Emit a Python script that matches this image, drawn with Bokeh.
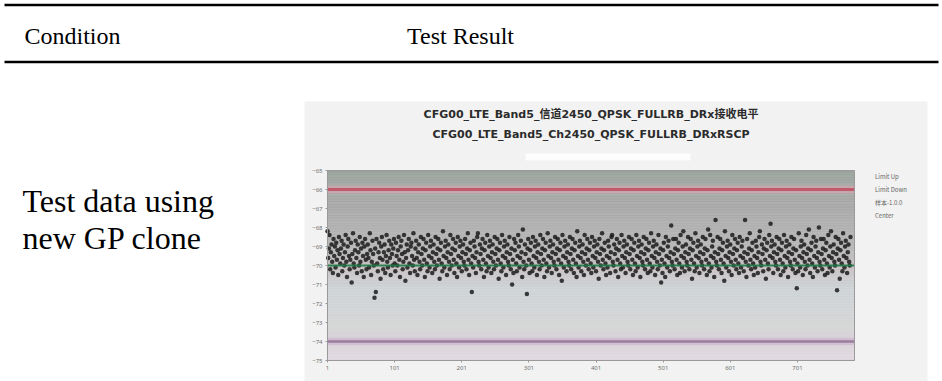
import numpy as np
from bokeh.plotting import figure
from bokeh.models import Range1d, FixedTicker, Legend, LegendItem, LinearAxis
from bokeh.core.properties import value
from bokeh.embed import file_html
from bokeh.resources import INLINE

# ---------------- data ----------------
header_labels = ["Condition", "Test Result"]
condition_lines = ["Test data using", "new GP clone"]
title_lines = ["CFG00_LTE_Band5_信道2450_QPSK_FULLRB_DRx接收电平",
               "CFG00_LTE_Band5_Ch2450_QPSK_FULLRB_DRxRSCP"]
legend_labels = ["Limit Up", "Limit Down", "样本-1.0.0", "Center"]
y_ticks = [-65, -66, -67, -68, -69, -70, -71, -72, -73, -74, -75]
x_ticks = [1, 101, 201, 301, 401, 501, 601, 701]
LIMIT_UP = -66
LIMIT_DOWN = -74
CENTER = -70
X_MIN, X_MAX = 1, 786
Y_MIN, Y_MAX = -75, -65

rscp = [
    -68.2,-69.6,-69.1,-68.4,-70.2,-69.3,-68.9,-69.8,-70.4,-68.6,-69.5,-69.0,-70.1,-68.8,-69.7,-69.2,-70.5,-68.5,-69.4,-69.9,
    -69.1,-68.7,-70.3,-69.6,-68.9,-70.0,-69.3,-68.4,-69.8,-70.6,-69.0,-68.6,-69.5,-70.2,-69.7,-68.8,-70.9,-69.4,-68.3,-69.9,
    -70.1,-69.2,-68.7,-69.6,-70.4,-68.9,-69.3,-70.0,-68.5,-69.8,-69.1,-70.3,-68.8,-69.5,-70.6,-69.0,-68.6,-69.7,-70.2,-69.4,
    -68.9,-69.6,-70.1,-68.3,-69.2,-70.5,-69.8,-68.7,-69.4,-70.0,-71.7,-69.1,-71.4,-68.6,-69.9,-70.3,-69.3,-68.8,-69.6,-70.7,
    -69.0,-68.5,-69.7,-70.2,-69.3,-68.9,-70.4,-69.5,-68.4,-69.8,-70.1,-69.2,-68.7,-69.6,-70.5,-68.9,-69.4,-70.0,-69.1,-68.6,
    -69.9,-70.3,-68.8,-69.5,-70.0,-69.2,-68.5,-69.7,-70.6,-69.0,-68.7,-69.4,-70.2,-69.8,-68.4,-69.3,-70.8,-69.6,-68.9,-70.1,
    -69.2,-68.6,-69.9,-70.4,-69.0,-68.8,-69.5,-70.0,-68.3,-69.7,-70.3,-69.1,-68.7,-69.6,-70.5,-69.3,-68.9,-69.8,-70.2,-68.5,
    -69.4,-70.0,-69.1,-68.6,-69.7,-70.6,-69.2,-68.8,-69.9,-70.3,-68.4,-69.5,-70.1,-69.0,-68.7,-69.6,-70.4,-69.3,-68.9,-69.8,
    -70.2,-68.5,-69.4,-70.0,-69.1,-68.6,-69.7,-70.7,-69.2,-68.8,-69.9,-70.3,-68.2,-69.5,-70.1,-69.0,-68.7,-69.6,-70.5,-69.3,
    -68.9,-69.8,-70.2,-68.4,-69.4,-70.0,-69.1,-68.6,-69.7,-70.4,-69.2,-68.8,-69.9,-70.6,-68.5,-69.5,-70.1,-69.0,-68.7,-69.6,
    -70.3,-69.3,-68.9,-69.8,-70.0,-68.6,-69.4,-70.2,-69.1,-68.3,-69.7,-70.5,-69.2,-68.8,-69.9,-71.4,-69.5,-70.1,-68.7,-69.0,
    -69.6,-70.4,-69.3,-68.5,-68.3,-69.8,-70.0,-68.9,-69.4,-70.2,-69.1,-68.6,-69.7,-70.6,-69.2,-68.8,-69.9,-70.3,-68.4,-69.5,
    -70.1,-69.0,-68.7,-69.6,-70.4,-69.3,-68.9,-69.8,-70.2,-68.5,-69.4,-70.0,-69.1,-68.6,-69.7,-70.7,-69.2,-68.8,-69.9,-70.3,
    -68.4,-69.5,-70.1,-69.0,-68.7,-69.6,-70.5,-69.3,-68.9,-69.8,-70.0,-68.5,-69.4,-70.2,-69.1,-71.0,-69.7,-70.4,-68.6,-69.2,
    -68.8,-69.9,-70.3,-69.5,-68.4,-69.0,-70.1,-69.6,-68.7,-69.3,-70.6,-68.1,-69.8,-70.2,-68.9,-69.4,-70.0,-71.5,-69.1,-68.6,
    -69.7,-70.4,-69.2,-68.8,-69.9,-70.3,-68.5,-69.5,-70.1,-69.0,-68.7,-69.6,-70.5,-69.3,-68.9,-69.8,-70.2,-68.4,-69.4,-70.0,
    -69.1,-68.6,-69.7,-70.6,-69.2,-68.8,-69.9,-70.3,-68.3,-69.5,-70.1,-69.0,-68.7,-69.6,-70.4,-69.3,-68.9,-69.8,-70.0,-68.5,
    -69.4,-70.2,-69.1,-68.6,-69.7,-70.5,-69.2,-68.8,-69.9,-70.8,-68.4,-69.5,-70.1,-69.0,-68.7,-69.6,-70.3,-69.3,-68.9,-69.8,
    -70.0,-68.5,-69.4,-70.2,-69.1,-68.6,-69.7,-70.4,-69.2,-68.8,-69.9,-70.6,-68.2,-69.5,-70.1,-69.0,-68.7,-69.6,-70.3,-69.3,
    -68.9,-69.8,-70.5,-68.4,-69.4,-70.0,-69.1,-68.6,-69.7,-70.2,-69.2,-68.8,-69.9,-70.4,-68.5,-69.5,-70.1,-69.0,-68.7,-69.6,
    -70.3,-69.3,-68.9,-69.8,-70.7,-68.6,-69.4,-70.0,-69.1,-68.3,-69.7,-70.2,-69.2,-68.8,-69.9,-70.5,-69.5,-70.1,-68.7,-69.0,
    -69.6,-70.4,-69.3,-68.5,-68.4,-69.8,-70.0,-68.9,-69.4,-70.3,-69.1,-68.6,-69.7,-70.6,-69.2,-68.8,-69.9,-70.2,-68.4,-69.5,
    -70.1,-69.0,-68.7,-69.6,-70.4,-69.3,-68.9,-69.8,-70.0,-68.5,-69.4,-70.2,-69.1,-68.6,-69.7,-70.5,-69.2,-68.8,-69.9,-70.3,
    -68.4,-69.5,-70.1,-69.0,-68.7,-69.6,-70.6,-69.3,-68.9,-69.8,-70.0,-68.5,-69.4,-70.2,-69.1,-68.6,-69.7,-70.4,-69.2,-68.8,
    -69.9,-70.3,-68.3,-69.5,-70.1,-69.0,-68.7,-69.6,-70.5,-69.3,-68.9,-69.8,-70.2,-68.4,-69.4,-70.0,-69.1,-70.9,-69.7,-70.4,
    -69.2,-68.8,-69.9,-70.6,-68.5,-69.5,-70.1,-69.0,-68.7,-69.6,-70.3,-69.3,-67.9,-69.8,-70.0,-68.6,-69.4,-70.2,-69.1,-68.6,
    -69.7,-70.5,-69.2,-68.8,-69.9,-70.4,-68.4,-69.5,-70.1,-69.0,-68.2,-69.6,-70.3,-69.3,-68.9,-69.8,-70.0,-68.5,-69.4,-70.2,
    -69.1,-68.6,-69.7,-70.7,-69.2,-68.8,-69.9,-70.3,-68.3,-69.5,-70.1,-69.0,-68.7,-69.6,-70.4,-69.3,-68.9,-69.8,-70.0,-68.5,
    -69.4,-70.2,-69.1,-68.6,-69.7,-70.5,-69.2,-68.1,-69.9,-70.3,-68.4,-69.5,-70.1,-69.0,-68.7,-69.6,-70.6,-69.3,-67.6,-69.8,
    -70.0,-68.5,-69.4,-70.2,-69.1,-68.6,-69.7,-70.4,-69.2,-68.8,-69.9,-70.8,-68.2,-69.5,-70.1,-69.0,-68.7,-69.6,-70.3,-69.3,
    -68.9,-69.8,-70.5,-68.4,-69.4,-70.0,-69.1,-68.6,-69.7,-70.2,-69.2,-68.8,-69.9,-70.4,-68.5,-69.5,-70.1,-69.0,-68.7,-69.6,
    -70.3,-69.3,-67.6,-69.8,-70.6,-68.6,-69.4,-70.0,-69.1,-68.3,-69.7,-70.2,-69.2,-68.8,-69.9,-70.5,-69.5,-70.1,-68.7,-69.0,
    -69.6,-70.4,-69.3,-68.5,-68.2,-69.8,-70.0,-68.9,-69.4,-70.3,-69.1,-68.6,-69.7,-70.7,-69.2,-68.8,-69.9,-70.2,-68.4,-69.5,
    -67.8,-69.0,-68.7,-69.6,-70.4,-69.3,-68.9,-69.8,-70.0,-68.5,-69.4,-70.2,-69.1,-68.6,-69.7,-70.5,-69.2,-68.8,-69.9,-70.3,
    -68.4,-69.5,-70.1,-69.0,-68.7,-69.6,-70.6,-69.3,-68.9,-69.8,-70.0,-68.5,-69.4,-70.2,-69.1,-68.6,-69.7,-70.4,-69.2,-71.2,
    -69.9,-70.3,-68.3,-69.5,-70.1,-69.0,-68.7,-69.6,-70.5,-69.3,-68.9,-69.8,-70.2,-68.4,-69.4,-70.0,-69.1,-68.1,-69.7,-70.4,
    -69.2,-68.8,-69.9,-70.6,-68.5,-69.5,-70.1,-69.0,-68.7,-69.6,-70.3,-69.3,-68.0,-69.8,-70.0,-68.6,-69.4,-70.2,-69.1,-68.6,
    -69.7,-70.5,-69.2,-68.8,-69.9,-70.4,-68.4,-69.5,-70.1,-69.0,-68.2,-69.6,-70.3,-69.3,-68.9,-69.8,-70.0,-68.5,-69.4,-71.3,
    -69.1,-68.6,-69.7,-70.7,-69.2,-68.8,-69.9,-70.3,-68.3,-69.5,-70.1,-69.0,-68.7,-69.6,-70.4,-69.3,-68.9,-69.8,-70.0,-68.5,
]
sample_index = list(range(1, len(rscp) + 1))

# ---------------- page geometry (pixels, top-left origin) ----------------
W, H = 942, 381
FL, FR, FT, FB = 327, 854, 170, 360          # chart plotting area on the page
IMG_L, IMG_R, IMG_T = 304, 927, 101           # chart picture box

# The page figure's frame is the whole canvas; its main ranges are page pixels.
p = figure(width=W, height=H, x_range=Range1d(0, W), y_range=Range1d(H, 0),
           output_backend="svg", toolbar_location=None,
           x_axis_location=None, y_axis_location=None, min_border=0)
p.grid.visible = False
p.outline_line_color = None
p.background_fill_color = "white"
p.border_fill_color = "white"

# chart data ranges, placed so the chart area lands on FL..FR / FT..FB
xu = (FR - FL) / (X_MAX - X_MIN)
yu = (FB - FT) / (Y_MAX - Y_MIN)
p.extra_x_ranges = {"cx": Range1d(X_MIN - FL / xu, X_MAX + (W - FR) / xu)}
p.extra_y_ranges = {"cy": Range1d(Y_MIN - (H - FB) / yu, Y_MAX + FT / yu)}
C = dict(x_range_name="cx", y_range_name="cy")

# ---- table ----
p.quad(left=[IMG_L], right=[IMG_R], top=[IMG_T], bottom=[H], fill_color="#f2f2f2",
       line_color=None)
p.segment(x0=[4, 4], y0=[4.5, 61.5], x1=[938, 938], y1=[4.5, 61.5],
          line_color="black", line_width=2.5)
p.text(x=[72, 460], y=[35, 35], text=header_labels, text_font=value("Liberation Serif"),
       text_font_size="24px", text_align="center", text_baseline="middle",
       text_color="black")
p.text(x=[22, 22], y=[200, 237], text=condition_lines, text_font=value("Liberation Serif"),
       text_font_size="32px", text_align="left", text_baseline="middle",
       text_color="black")

# ---- chart titles ----
p.text(x=[(FL + FR) / 2] * 2, y=[114, 134], text=title_lines,
       text_font=value("DejaVu Sans, Noto Sans CJK SC"), text_font_style="bold",
       text_font_size="11px", text_align="center", text_baseline="middle",
       text_color="#2b2b2b")
p.quad(left=[525], right=[690], top=[153], bottom=[160], fill_color="white",
       fill_alpha=0.8, line_color=None)

# ---- chart background gradient (style only) ----
stops_v = [-75, -74.4, -73.8, -73.4, -71.2, -70.2, -69.0, -67.0, -66.0, -65.0]
stops_c = [(224, 218, 224), (222, 214, 222), (214, 206, 214), (214, 214, 214),
           (206, 212, 214), (202, 196, 198), (184, 184, 184), (170, 170, 170),
           (164, 168, 165), (154, 164, 157)]
edges = np.linspace(Y_MIN, Y_MAX, 121)
mids = (edges[:-1] + edges[1:]) / 2
cols = []
for m in mids:
    rgb = [int(round(np.interp(m, stops_v, [c[k] for c in stops_c]))) for k in range(3)]
    cols.append("#%02x%02x%02x" % tuple(rgb))
p.quad(left=X_MIN, right=X_MAX, bottom=edges[:-1], top=edges[1:],
       fill_color=cols, line_color=cols, line_width=0.5, **C)

# ---- limit lines with soft halos ----
p.line(x=[X_MIN, X_MAX], y=[LIMIT_UP, LIMIT_UP], line_color="#e0a8b2",
       line_width=8, line_alpha=0.55, **C)
p.line(x=[X_MIN, X_MAX], y=[LIMIT_UP, LIMIT_UP], line_color="#c25a6e",
       line_width=3, **C)
p.line(x=[X_MIN, X_MAX], y=[LIMIT_DOWN, LIMIT_DOWN], line_color="#cdb8cd",
       line_width=7, line_alpha=0.7, **C)
p.line(x=[X_MIN, X_MAX], y=[LIMIT_DOWN, LIMIT_DOWN], line_color="#9a7c9c",
       line_width=2.5, **C)

# ---- samples and center ----
p.scatter(x=sample_index, y=rscp, size=4.5, fill_color="#1c1c1c",
          line_color=None, fill_alpha=0.85, **C)
p.line(x=[X_MIN, X_MAX], y=[CENTER, CENTER], line_color="#1f7a45",
       line_width=2, line_alpha=0.9, **C)

# chart area outline
p.quad(left=[X_MIN], right=[X_MAX], bottom=[Y_MIN], top=[Y_MAX], fill_color=None,
       line_color="#9a9a9a", line_width=1, **C)

# ---- axes at the chart area edges ----
yax = LinearAxis(fixed_location=X_MIN, bounds=(Y_MIN, Y_MAX),
                 ticker=FixedTicker(ticks=y_ticks), **C)
xax = LinearAxis(fixed_location=Y_MIN, bounds=(X_MIN, X_MAX),
                 ticker=FixedTicker(ticks=x_ticks), **C)
for ax in (xax, yax):
    ax.major_label_text_font_size = "6px"
    ax.major_label_text_color = "#707070"
    ax.major_label_text_font = "Noto Sans"
    ax.axis_line_color = "#999999"
    ax.major_tick_line_color = "#999999"
    ax.major_tick_in = 0
    ax.major_tick_out = 2
    ax.minor_tick_line_color = None
    ax.major_label_standoff = 3
p.add_layout(yax, "left")
p.add_layout(xax, "below")

# ---- legend ----
leg_up = p.line(x=[], y=[], line_color="#d08090", line_width=1.2)
leg_down = p.line(x=[], y=[], line_color="#a890a8", line_width=1.2)
leg_pts = p.scatter(x=[], y=[], size=11, fill_color="#1c1c1c", line_color=None)
leg_center = p.line(x=[], y=[], line_color="#b0b0b0", line_width=1.2)
legend = Legend(items=[LegendItem(label=legend_labels[0], renderers=[leg_up]),
                       LegendItem(label=legend_labels[1], renderers=[leg_down]),
                       LegendItem(label=legend_labels[2], renderers=[leg_pts]),
                       LegendItem(label=legend_labels[3], renderers=[leg_center])],
                location=(FR + 4, H - 220), margin=0, padding=2, spacing=3,
                glyph_width=14, glyph_height=10, label_height=10,
                label_standoff=3, label_text_font_size="6px",
                label_text_color="#666666", label_text_font="Noto Sans CJK SC",
                border_line_color=None, background_fill_alpha=0)
p.add_layout(legend)

open("out.html", "w").write(file_html(p, INLINE))
